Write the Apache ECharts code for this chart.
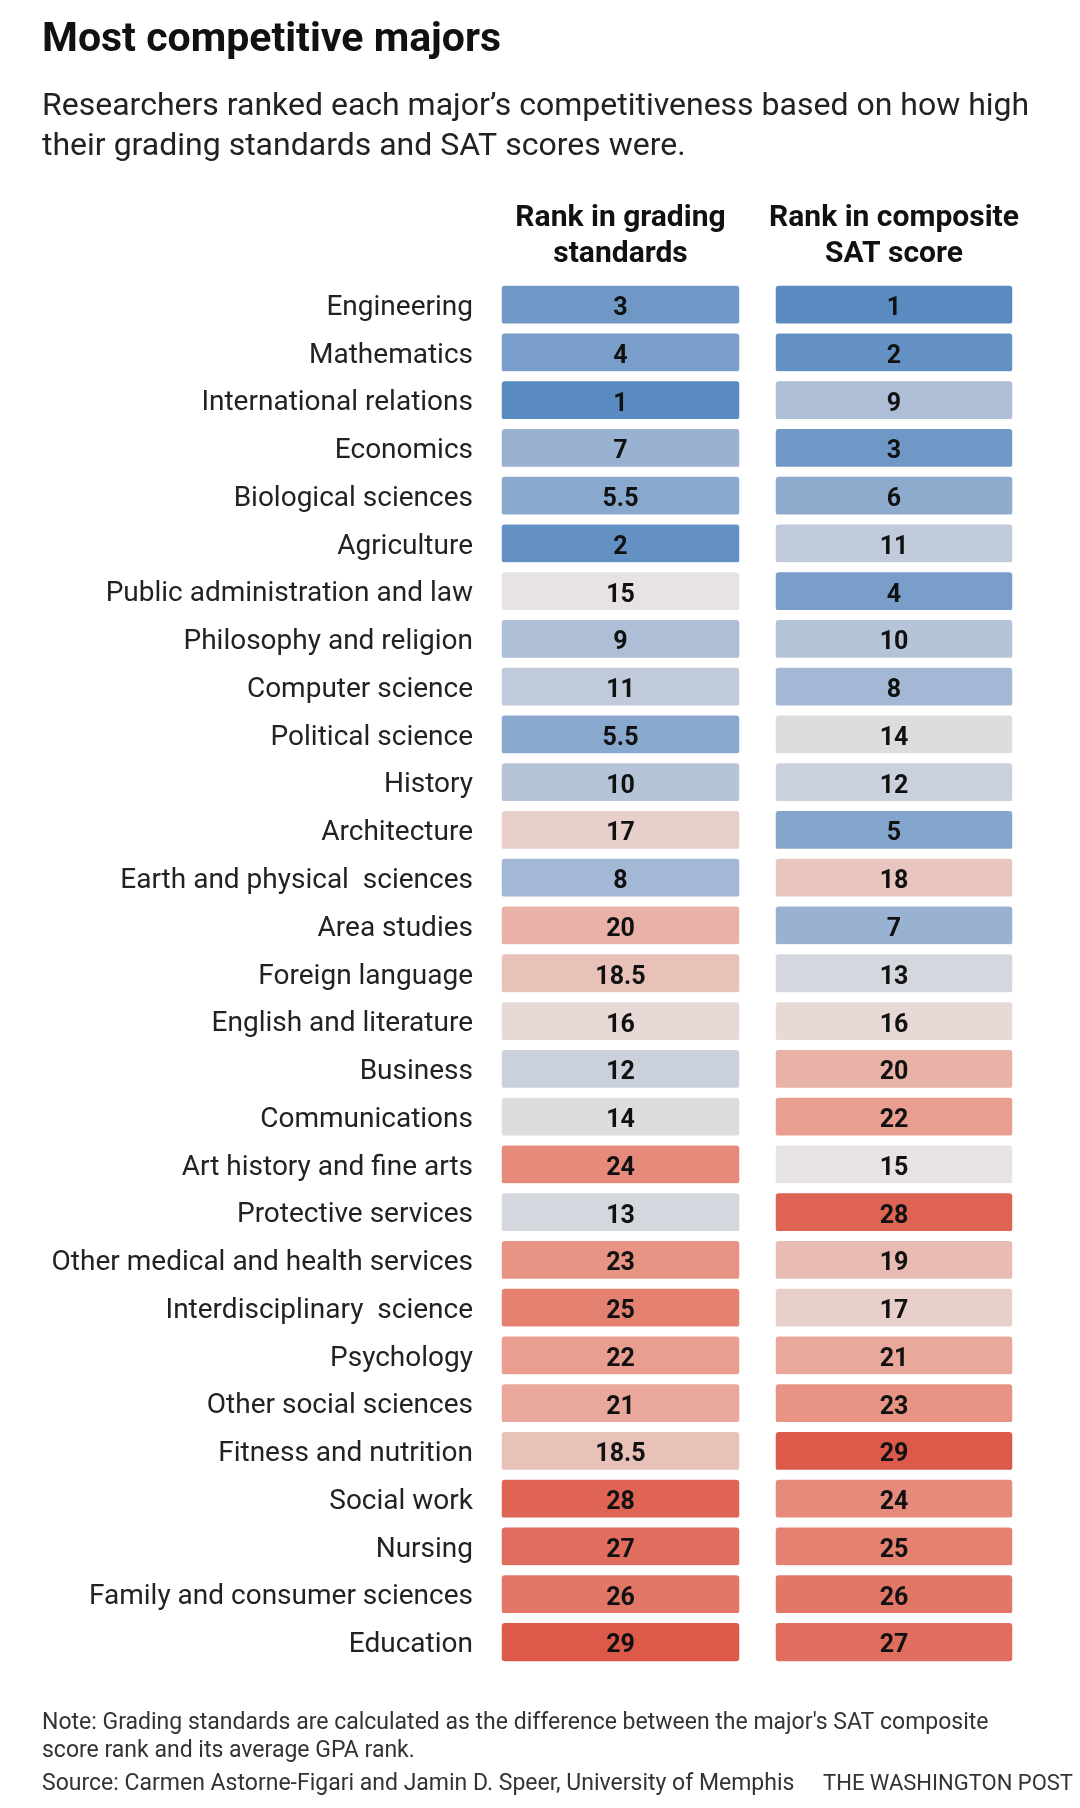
<!DOCTYPE html>
<html>
<head>
<meta charset="utf-8">
<style>
  html, body { margin: 0; padding: 0; background: #fff; }
  #chart { width: 1080px; height: 1808px; }
</style>
<script src="https://cdn.jsdelivr.net/npm/echarts@6/dist/echarts.min.js"></script>
</head>
<body>
<div id="chart"></div>
<script>
const majors = [
  'Engineering', 'Mathematics', 'International relations', 'Economics',
  'Biological sciences', 'Agriculture', 'Public administration and law',
  'Philosophy and religion', 'Computer science', 'Political science', 'History',
  'Architecture', 'Earth and physical  sciences', 'Area studies', 'Foreign language',
  'English and literature', 'Business', 'Communications', 'Art history and fine arts',
  'Protective services', 'Other medical and health services', 'Interdisciplinary  science',
  'Psychology', 'Other social sciences', 'Fitness and nutrition', 'Social work',
  'Nursing', 'Family and consumer sciences', 'Education'
];
const gradingRank = [3, 4, 1, 7, 5.5, 2, 15, 9, 11, 5.5, 10, 17, 8, 20, 18.5, 16, 12, 14, 24, 13, 23, 25, 22, 21, 18.5, 28, 27, 26, 29];
const satRank = [1, 2, 9, 3, 6, 11, 4, 10, 8, 14, 12, 5, 18, 7, 13, 16, 20, 22, 15, 28, 19, 17, 21, 23, 29, 24, 25, 26, 27];
const columnHeaders = ['Rank in grading\nstandards', 'Rank in composite\nSAT score'];

const FONT = 'Roboto, "Noto Sans", sans-serif';
const chart = echarts.init(document.getElementById('chart'), null, { renderer: 'canvas' });

function cells(arr) {
  return arr.map((v, i) => [0, i, v]);
}

const gridTop = 281;
const gridHeight = 1385;

const option = {
  backgroundColor: '#ffffff',
  animation: false,
  title: [
    {
      text: 'Most competitive majors',
      left: 37, top: 15,
      textStyle: { fontFamily: FONT, fontSize: 41, fontWeight: 'bold', color: '#111' }
    },
    {
      text: 'Researchers ranked each major\u2019s competitiveness based on how high\ntheir grading standards and SAT scores were.',
      left: 37, top: 82,
      textStyle: { fontFamily: FONT, fontSize: 32, fontWeight: 'normal', color: '#222', lineHeight: 40 }
    },
    {
      text: 'Note: Grading standards are calculated as the difference between the major\'s SAT composite\nscore rank and its average GPA rank.',
      left: 37, top: 1704,
      textStyle: { fontFamily: FONT, fontSize: 23, fontWeight: 'normal', color: '#333', lineHeight: 28 }
    },
    {
      text: 'Source: Carmen Astorne-Figari and Jamin D. Speer, University of Memphis',
      left: 37, top: 1765,
      textStyle: { fontFamily: FONT, fontSize: 23, fontWeight: 'normal', color: '#333', lineHeight: 28 }
    },
    {
      text: 'THE WASHINGTON POST',
      right: 2, top: 1765,
      textStyle: { fontFamily: FONT, fontSize: 22, fontWeight: 'normal', color: '#333', lineHeight: 28 }
    }
  ],
  visualMap: {
    show: false,
    type: 'continuous',
    min: 1, max: 29,
    dimension: 2,
    seriesIndex: [0, 1],
    inRange: { color: ['#5a8bc0', '#a3b8d4', '#e7e3e2', '#e99e8f', '#dd5a4a'] }
  },
  grid: [
    { left: 497, width: 247, top: gridTop, height: gridHeight },
    { left: 771, width: 246, top: gridTop, height: gridHeight }
  ],
  xAxis: [0, 1].map(g => ({
    type: 'category',
    gridIndex: g,
    position: 'top',
    data: [columnHeaders[g]],
    axisLine: { show: false },
    axisTick: { show: false },
    splitLine: { show: false },
    axisLabel: {
      fontFamily: FONT, fontSize: 30, fontWeight: 'bold', color: '#111',
      lineHeight: 36, margin: 9
    }
  })),
  yAxis: [0, 1].map(g => ({
    type: 'category',
    gridIndex: g,
    inverse: true,
    data: majors,
    axisLine: { show: false },
    axisTick: { show: false },
    splitLine: { show: false },
    axisLabel: {
      show: g === 0,
      formatter: v => '{m|' + v + '}',
      margin: 24,
      rich: {
        m: { fontFamily: FONT, fontSize: 28, color: '#222', padding: [6, 0, 0, 0] }
      }
    }
  })),
  series: [gradingRank, satRank].map((arr, g) => ({
    type: 'heatmap',
    xAxisIndex: g,
    yAxisIndex: g,
    data: cells(arr),
    itemStyle: { borderColor: '#ffffff', borderWidth: 10, borderRadius: 8 },
    label: {
      show: true,
      formatter: p => String(p.value[2]),
      offset: [0, 4],
      fontFamily: FONT, fontSize: 25, fontWeight: 'bold', color: '#111'
    },
    emphasis: { disabled: true }
  }))
};

chart.setOption(option);
</script>
</body>
</html>
